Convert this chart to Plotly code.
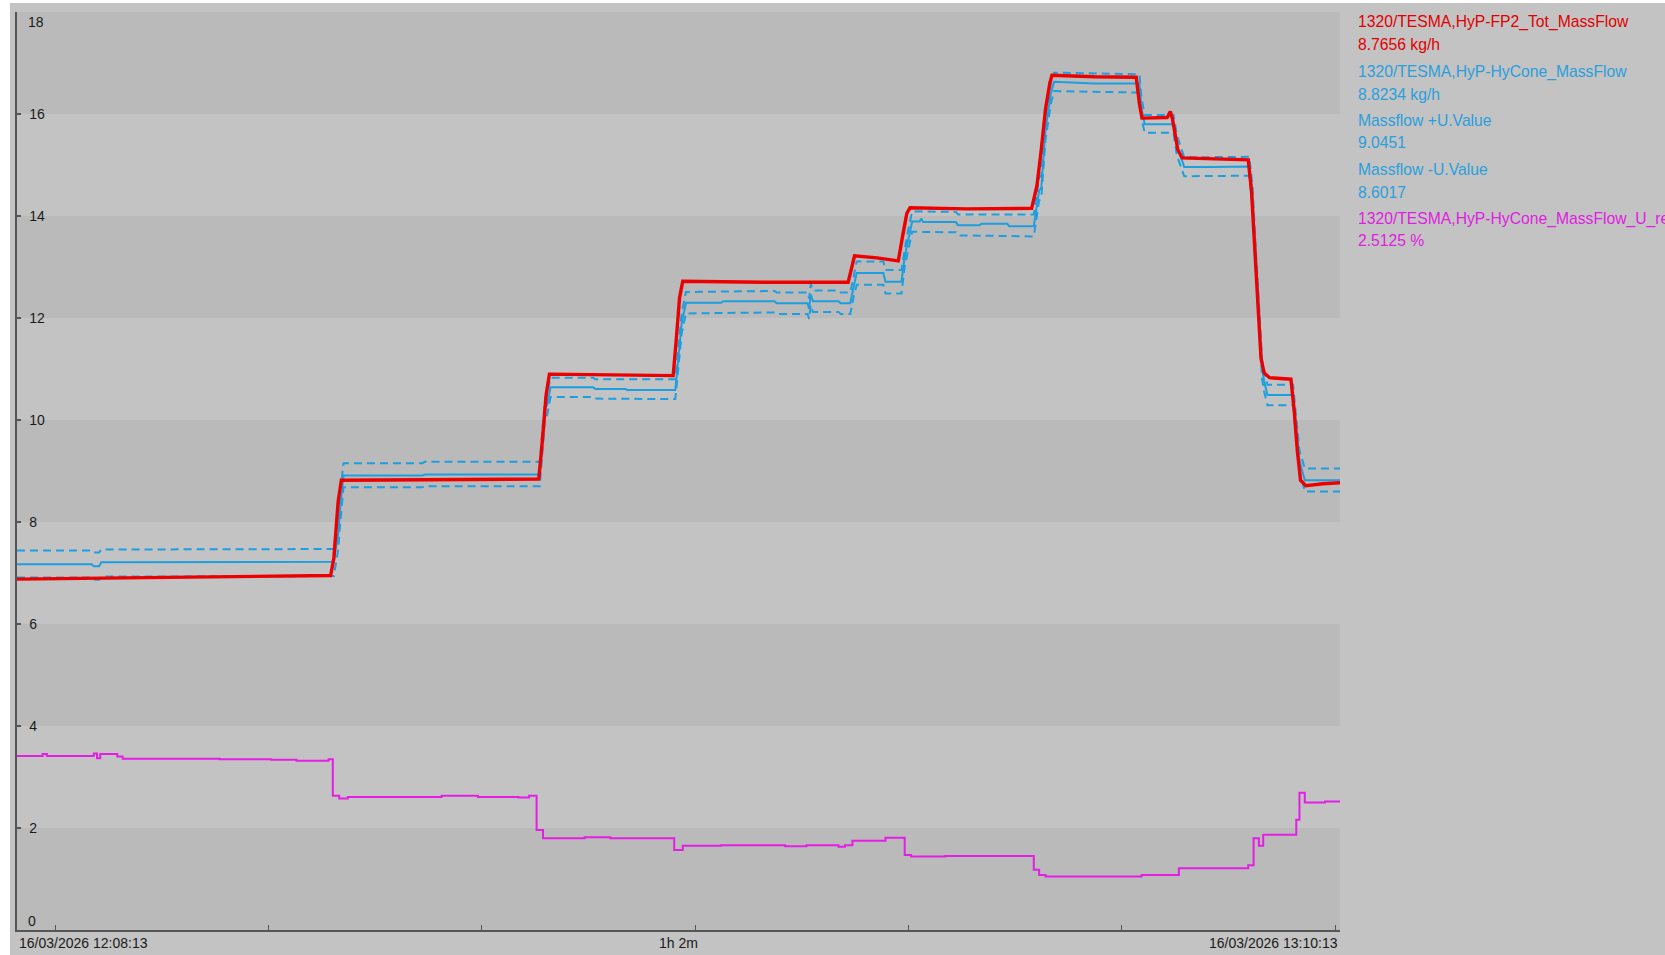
import plotly.graph_objects as go
import pandas as pd

# ---------------- data (minutes after start, values) ----------------
START = "2026-03-16 12:08:13"
END = "2026-03-16 13:10:13"

red_t = [0, 4, 9, 14.7, 14.85, 15.05, 15.2, 20, 24.45, 24.6, 24.8, 24.95, 28, 30.75,
         30.9, 31.05, 31.2, 35, 38.95, 39.1, 39.25, 40.3, 41.3, 41.5, 41.7, 41.85, 44.5,
         47.55, 47.8, 48.0, 48.2, 48.4, 48.5, 50.5, 52.45, 52.6, 52.72, 53.9, 54.05,
         54.15, 54.4, 54.6, 56.0, 57.7, 57.85, 58.0, 58.15, 58.3, 58.45, 58.7, 59.7,
         59.85, 60.0, 60.15, 60.4, 61.2, 62.0]
red_v = [6.88, 6.90, 6.91, 6.95, 7.3, 8.4, 8.82, 8.83, 8.84, 9.5, 10.5, 10.90, 10.89, 10.87,
         11.6, 12.4, 12.72, 12.70, 12.70, 13.0, 13.22, 13.18, 13.12, 13.6, 14.05, 14.16, 14.14,
         14.15, 14.6, 15.3, 16.1, 16.6, 16.76, 16.73, 16.72, 16.2, 15.92, 15.93, 16.05,
         15.9, 15.3, 15.14, 15.12, 15.10, 14.5, 13.4, 12.2, 11.2, 10.92, 10.83, 10.80,
         10.2, 9.4, 8.82, 8.71, 8.75, 8.77]

blue_t = [0, 3.5, 3.6, 3.85, 3.95, 14.85, 14.95, 15.05, 15.15, 15.3, 19.0, 19.1, 24.5,
          24.65, 24.75, 24.85, 25.0, 27.0, 27.1, 28.5, 28.6, 30.85, 31.05, 31.15, 31.35,
          33.0, 33.1, 35.5, 35.6, 37.05, 37.12, 37.2, 37.3, 38.5, 38.6, 39.05, 39.2, 39.35,
          40.6, 40.7, 41.45, 41.6, 41.7, 41.95, 42.3, 42.38, 42.46, 44.0, 44.1, 45.1, 45.2,
          46.4, 46.5, 47.65, 47.9, 48.0, 48.2, 48.45, 48.6, 50.5, 52.6, 52.7, 52.85, 54.2,
          54.35, 54.5, 54.7, 56.0, 57.75, 57.9, 58.05, 58.2, 58.35, 58.45, 58.6, 59.8,
          59.95, 60.1, 60.35, 62.0]
blue_v = [7.17, 7.17, 7.13, 7.13, 7.21, 7.22, 7.5, 7.75, 8.3, 8.91, 8.91, 8.93, 8.93,
          9.8, 10.25, 10.3, 10.64, 10.64, 10.61, 10.61, 10.59, 10.59, 11.5, 11.9, 12.30,
          12.30, 12.33, 12.33, 12.29, 12.29, 12.18, 12.46, 12.33, 12.33, 12.29, 12.29, 12.6, 12.88,
          12.88, 12.71, 12.71, 13.2, 13.4, 13.89, 13.89, 13.95, 13.88, 13.88, 13.82, 13.82, 13.85,
          13.85, 13.80, 13.80, 14.5, 14.55, 15.7, 16.4, 16.63, 16.60, 16.60, 16.1, 15.80, 15.80,
          15.4, 15.2, 14.96, 14.96, 14.97, 14.4, 13.2, 12.0, 11.0, 10.75, 10.49, 10.49,
          9.8, 9.2, 8.82, 8.82]

upper_t = [0, 3.5, 3.6, 3.85, 3.95, 14.85, 14.95, 15.05, 15.15, 15.3, 19.0, 19.1, 24.5,
           24.65, 24.75, 24.85, 25.0, 27.0, 27.1, 30.85, 31.05, 31.15, 31.35, 35.5, 35.6,
           37.05, 37.12, 37.2, 37.3, 38.5, 38.6, 39.05, 39.2, 39.35, 40.6, 40.7, 41.45, 41.6,
           41.7, 41.95, 44.0, 44.1, 47.65, 47.9, 48.0, 48.2, 48.45, 48.6, 52.6, 52.7, 52.85,
           54.2, 54.35, 54.5, 54.7, 57.75, 57.9, 58.05, 58.2, 58.35, 58.45, 58.6, 59.8, 59.95,
           60.1, 60.35, 62.0]
upper_v = [7.44, 7.44, 7.40, 7.40, 7.46, 7.47, 7.8, 8.1, 8.6, 9.15, 9.15, 9.18, 9.18,
           10.0, 10.45, 10.5, 10.83, 10.83, 10.80, 10.80, 11.7, 12.1, 12.51, 12.53, 12.50,
           12.50, 12.38, 12.67, 12.54, 12.54, 12.50, 12.50, 12.8, 13.11, 13.11, 12.94, 12.94, 13.4,
           13.6, 14.09, 14.08, 14.03, 14.03, 14.75, 14.8, 15.9, 16.6, 16.81, 16.78, 16.3, 15.98,
           15.98, 15.6, 15.4, 15.15, 15.16, 14.6, 13.4, 12.2, 11.2, 10.95, 10.69, 10.69, 10.0,
           9.4, 9.05, 9.05]

lower_t = upper_t
lower_v = [6.91, 6.91, 6.87, 6.87, 6.93, 6.94, 7.2, 7.45, 8.0, 8.68, 8.68, 8.70, 8.70,
           9.6, 10.05, 10.1, 10.45, 10.45, 10.42, 10.41, 11.3, 11.7, 12.09, 12.11, 12.08,
           12.08, 11.98, 12.25, 12.12, 12.12, 12.08, 12.08, 12.4, 12.65, 12.65, 12.48, 12.48, 13.0,
           13.2, 13.69, 13.68, 13.62, 13.60, 14.3, 14.35, 15.5, 16.2, 16.45, 16.42, 15.9, 15.63,
           15.63, 15.2, 15.0, 14.78, 14.79, 14.2, 13.0, 11.8, 10.8, 10.55, 10.29, 10.29, 9.6,
           9.0, 8.60, 8.60]

urel_t = [0, 1.2, 1.4, 3.6, 3.75, 3.9, 4.7, 4.95, 9.5, 11.9, 13.1, 14.6, 14.8, 15.1, 15.5,
          19.9, 21.6, 23.5, 24.0, 24.35, 24.65, 26.6, 27.8, 30.8, 31.2, 33.0, 36.0, 37.0,
          38.5, 38.8, 39.15, 40.7, 41.6, 41.9, 43.5, 47.65, 47.9, 48.2, 52.7, 54.45, 57.7,
          57.95, 58.2, 58.4, 59.95, 60.1, 60.35, 61.3, 62.0]
urel_v = [3.41, 3.45, 3.41, 3.46, 3.37, 3.45, 3.40, 3.36, 3.35, 3.34, 3.32, 3.35, 2.63, 2.58, 2.61,
          2.63, 2.61, 2.60, 2.63, 1.96, 1.80, 1.82, 1.80, 1.57, 1.65, 1.66, 1.64, 1.66,
          1.63, 1.66, 1.75, 1.81, 1.47, 1.44, 1.45, 1.18, 1.08, 1.05, 1.08, 1.21, 1.27,
          1.80, 1.65, 1.87, 2.16, 2.69, 2.50, 2.52, 2.51]

series_names = ["1320/TESMA,HyP-FP2_Tot_MassFlow", "1320/TESMA,HyP-HyCone_MassFlow",
                "Massflow +U.Value", "Massflow -U.Value",
                "1320/TESMA,HyP-HyCone_MassFlow_U_rel"]
series_last = ["8.7656 kg/h", "8.8234 kg/h", "9.0451", "8.6017", "2.5125 %"]

y_ticks = [2, 4, 6, 8, 10, 12, 14, 16, 18]
y_tick_text = ["2", "4", "6", "8", "10", "12", "14", "16", ""]
x_labels = ["16/03/2026 12:08:13", "1h 2m", "16/03/2026 13:10:13"]

# ---------------- styling ----------------
RED = "#ec0000"
BLUE = "#1c9fe0"
MAG = "#e41ee4"
TEXT_COLORS = ["#e00000", "#2a9fdc", "#2a9fdc", "#2a9fdc", "#e020e0"]
LIGHT = "#c3c3c3"
DARK = "#bababa"
AXIS = "#555555"
FONT = "Liberation Sans, Arial, sans-serif"

W, H = 1665, 955
ML, MR, MT, MB = 17, 325, 12, 25
PW, PH = W - ML - MR, H - MT - MB

t0 = pd.Timestamp(START)


def tt(mins):
    return [t0 + pd.Timedelta(minutes=m) for m in mins]


fig = go.Figure()
fig.add_trace(go.Scatter(x=tt(lower_t), y=lower_v, mode="lines", name=series_names[3],
                         line=dict(color=BLUE, width=2, dash="8px,5px")))
fig.add_trace(go.Scatter(x=tt(upper_t), y=upper_v, mode="lines", name=series_names[2],
                         line=dict(color=BLUE, width=2, dash="8px,5px")))
fig.add_trace(go.Scatter(x=tt(blue_t), y=blue_v, mode="lines", name=series_names[1],
                         line=dict(color=BLUE, width=2)))
fig.add_trace(go.Scatter(x=tt(red_t), y=red_v, mode="lines", name=series_names[0],
                         line=dict(color=RED, width=3.4)))
fig.add_trace(go.Scatter(x=tt(urel_t), y=urel_v, mode="lines", name=series_names[4],
                         line=dict(color=MAG, width=2, shape="hv")))

shapes = []
# alternating horizontal bands
for lo in range(0, 18, 4):
    shapes.append(dict(type="rect", xref="paper", yref="y", x0=0, x1=1, y0=lo, y1=lo + 2,
                       fillcolor=DARK, line=dict(width=0), layer="below"))
# white outer border (left / top)
shapes.append(dict(type="rect", xref="paper", yref="paper", x0=-ML / PW - 0.01, x1=(10 - ML) / PW,
                   y0=-0.1, y1=1.1, fillcolor="white", line=dict(width=0), layer="above"))
shapes.append(dict(type="rect", xref="paper", yref="paper", x0=-0.1, x1=1.3,
                   y0=(H - MB - 3) / PH, y1=(H - MB + 5) / PH, fillcolor="white",
                   line=dict(width=0), layer="above"))


def py(ypix):
    return (H - MB - ypix) / PH


def px(xpix):
    return (xpix - ML) / PW


annotations = []
legend_y = [(22.5, 45), (72, 94.5), (120.5, 143), (169.5, 192.5), (219, 241)]
for i in range(5):
    for j, txt in enumerate([series_names[i], series_last[i]]):
        annotations.append(dict(xref="paper", yref="paper", x=px(1356), y=py(legend_y[i][j]),
                                xanchor="left", yanchor="middle", text=txt, showarrow=False,
                                font=dict(family=FONT, size=15.7, color=TEXT_COLORS[i])))
# x labels
for txt, xp, anc in zip(x_labels, [0, 0.5, 1], ["left", "center", "right"]):
    annotations.append(dict(xref="paper", yref="paper", x=xp, y=py(943), xanchor=anc,
                            yanchor="middle", text=txt, showarrow=False,
                            font=dict(family=FONT, size=14, color="#1a1a1a")))
# y end labels
annotations.append(dict(xref="paper", yref="paper", x=px(26), y=py(22), xanchor="left",
                        yanchor="middle", text="18", showarrow=False,
                        font=dict(family=FONT, size=14, color="#1a1a1a")))
annotations.append(dict(xref="paper", yref="paper", x=px(26), y=py(921), xanchor="left",
                        yanchor="middle", text="0", showarrow=False,
                        font=dict(family=FONT, size=14, color="#1a1a1a")))

fig.update_layout(
    width=W, height=H,
    margin=dict(l=ML, r=MR, t=MT, b=MB, pad=0),
    paper_bgcolor=LIGHT, plot_bgcolor=LIGHT,
    showlegend=False,
    shapes=shapes, annotations=annotations,
    font=dict(family=FONT, size=14, color="#1a1a1a"),
    xaxis=dict(type="date", range=[START, END], showgrid=False, zeroline=False,
               showline=True, linecolor=AXIS, linewidth=2, ticks="inside", ticklen=5,
               tickcolor=AXIS, tickwidth=1.3, tick0="2026-03-16 12:10:00", dtick=600000,
               showticklabels=False, fixedrange=True),
    yaxis=dict(range=[0, 18], showgrid=False, zeroline=False, showline=True,
               linecolor=AXIS, linewidth=2, ticks="inside", ticklen=4, tickcolor=AXIS,
               tickwidth=1.5, tickmode="array", tickvals=y_ticks, ticktext=y_tick_text,
               ticklabelposition="inside", ticklabelstandoff=8,
               tickfont=dict(family=FONT, size=14, color="#1a1a1a"),
               fixedrange=True),
)

fig.write_html(
    "out.html",
    config={"displayModeBar": False},
    post_script="document.body.style.margin='0';document.body.style.overflow='hidden';",
)
